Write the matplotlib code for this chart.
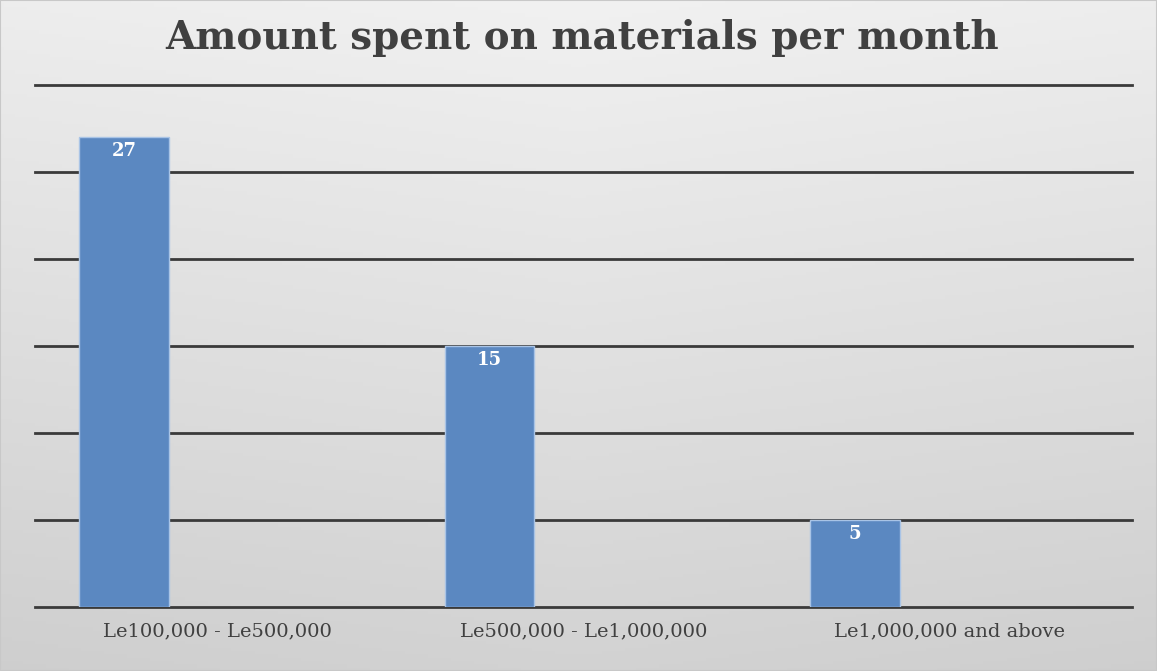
import numpy as np
import matplotlib
matplotlib.use("Agg")
import matplotlib.pyplot as plt

categories = ["Le100,000 - Le500,000", "Le500,000 - Le1,000,000", "Le1,000,000 and above"]
counts = [27, 15, 5]
y_ticks = [0, 5, 10, 15, 20, 25, 30]

BAR_COLOR = "#5b88c1"
TEXT_COLOR = "#404040"

fig = plt.figure(figsize=(11.57, 6.71), dpi=100)

# soft grey gradient behind the whole chart
bg = fig.add_axes([0, 0, 1, 1], zorder=-10)
ny, nx = 200, 300
yy, xx = np.mgrid[0:1:ny * 1j, 0:1:nx * 1j]
shade = 0.945 - 0.12 * yy - 0.03 * np.abs(xx - 0.5)
bg.imshow(np.dstack([shade] * 3), aspect="auto", extent=[0, 1, 0, 1], origin="upper")
bg.set_axis_off()
fig.patches.append(plt.Rectangle((0, 0), 1, 1, transform=fig.transFigure,
                                 fill=False, edgecolor="#c8c8c8", linewidth=1.5))

ax = fig.add_axes([0.0303, 0.0954, 0.948, 0.778])
ax.patch.set_alpha(0)

x = np.arange(len(categories))
width = 0.246
offset = -0.257

for y in y_ticks:
    ax.axhline(y, color="#3a3a3a", linewidth=2, zorder=1, clip_on=False)

bars = ax.bar(x + offset, counts, width=width, color=BAR_COLOR,
              edgecolor="#a9c4e6", linewidth=1, zorder=2)

for rect, val in zip(bars, counts):
    ax.text(rect.get_x() + rect.get_width() / 2, val - 0.3, str(val),
            ha="center", va="top", color="white", fontsize=13,
            fontweight="bold", family="DejaVu Serif", zorder=3)

ax.set_xlim(-0.5, 2.5)
ax.set_ylim(0, 30)
ax.set_xticks(x)
ax.set_xticklabels(categories, family="DejaVu Serif", fontsize=14, color=TEXT_COLOR)
ax.tick_params(axis="x", length=0, pad=11)
ax.set_yticks([])
for side in ax.spines.values():
    side.set_visible(False)

fig.text(0.503, 0.943, "Amount spent on materials per month", ha="center", va="center",
         fontsize=28, fontweight="bold", family="DejaVu Serif", color=TEXT_COLOR)

fig.savefig("out.png", dpi=100)
